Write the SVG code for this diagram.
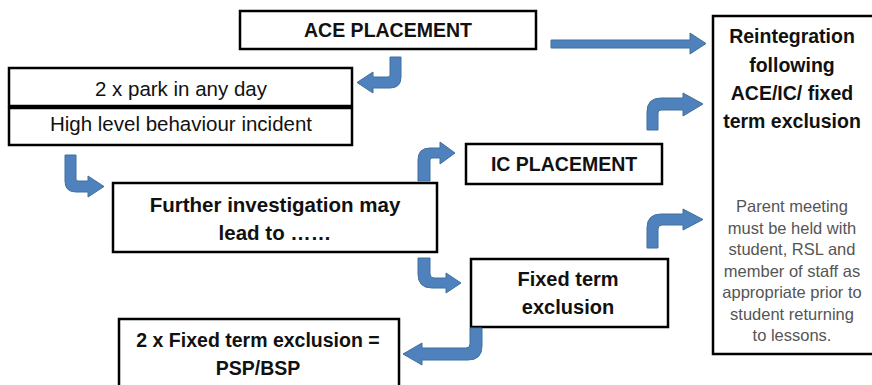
<svg xmlns="http://www.w3.org/2000/svg" width="872" height="385" viewBox="0 0 872 385">
<style>
.box{fill:#fff;stroke:#000;stroke-width:2.5}
.t{font-family:"Liberation Sans",Arial,sans-serif;fill:#111;text-anchor:middle}
.b{font-weight:bold}
.s{font-size:16.5px;fill:#555}
.arr{fill:#4F81BD;stroke:#41719C;stroke-width:1}
</style>
<rect width="872" height="385" fill="#fff"/>
<g id="ace">
<rect class="box" x="240" y="11" width="296" height="38"/>
<text class="t b" x="388" y="37" font-size="19.5">ACE PLACEMENT</text>
</g>
<g id="park">
<rect class="box" x="9" y="68" width="343" height="38"/>
<text class="t" x="181" y="96" font-size="20.5">2 x park in any day</text>
</g>
<g id="incident">
<rect class="box" x="9" y="108" width="343" height="37"/>
<text class="t" x="181" y="131" font-size="20.5">High level behaviour incident</text>
</g>
<g id="further">
<rect class="box" x="113" y="183" width="324" height="69"/>
<text class="t b" x="275" y="212" font-size="20.5">Further investigation may</text>
<text class="t b" x="275" y="240" font-size="20.5">lead to ……</text>
</g>
<g id="ic">
<rect class="box" x="466" y="144" width="196" height="40"/>
<text class="t b" x="564" y="171" font-size="19.5">IC PLACEMENT</text>
</g>
<g id="fixed">
<rect class="box" x="471" y="259" width="197" height="68"/>
<text class="t b" x="568" y="286" font-size="20">Fixed term</text>
<text class="t b" x="568" y="314" font-size="20">exclusion</text>
</g>
<g id="psp">
<rect class="box" x="119" y="319" width="280" height="75"/>
<text class="t b" x="258" y="347" font-size="19.5">2 x Fixed term exclusion =</text>
<text class="t b" x="258" y="375" font-size="19.5">PSP/BSP</text>
</g>
<g id="reintegration">
<rect class="box" x="713" y="16" width="170" height="338"/>
<text class="t b" x="792" y="43" font-size="19.5">Reintegration</text>
<text class="t b" x="792" y="71.5" font-size="19.5">following</text>
<text class="t b" x="792" y="100" font-size="19.5">ACE/IC/ fixed</text>
<text class="t b" x="792" y="128" font-size="19.5">term exclusion</text>
<text class="t s" x="792" y="212">Parent meeting</text>
<text class="t s" x="792" y="233.5">must be held with</text>
<text class="t s" x="792" y="255">student, RSL and</text>
<text class="t s" x="792" y="276.5">member of staff as</text>
<text class="t s" x="792" y="298">appropriate prior to</text>
<text class="t s" x="792" y="319.5">student returning</text>
<text class="t s" x="792" y="341">to lessons.</text>
</g>
<g id="connectors">
<path class="arr" d="M390,57 H401 V77 Q401,88 390,88 H373 V93 L357,82.5 L373,72 V77 H388 Q390,77 390,75 Z"/>
<path class="arr" d="M65,155 H76 V179 Q76,181 78,181 H88 V176 L104,186.5 L88,197 V192 H76 Q65,192 65,181 Z"/>
<path class="arr" d="M418,181 V160 Q418,148 430,148 H440 V142 L455,153 L440,164 V158 H432 Q430,158 430,160 V181 Z"/>
<path class="arr" d="M647,130 V112 Q647,98 661,98 H683 V93 L703,104 L683,116 V110 H661 Q658,110 658,113 V130 Z"/>
<path class="arr" d="M418,258 H430 V274 Q430,278 434,278 H446 V273 L461,283 L446,293 V288 H432 Q418,288 418,274 Z"/>
<path class="arr" d="M647,248 V228 Q647,214 661,214 H683 V209 L703,219.5 L683,230 V225 H662 Q658,225 658,229 V248 Z"/>
<path class="arr" d="M470,328 H482 V346 Q482,360 468,360 H422 V365 L403,354 L422,343 V348 H466 Q470,348 470,344 Z"/>
<path class="arr" d="M551,40 H690 V33 L706,43.5 L690,54 V48 H551 Z"/>
</g>
</svg>
